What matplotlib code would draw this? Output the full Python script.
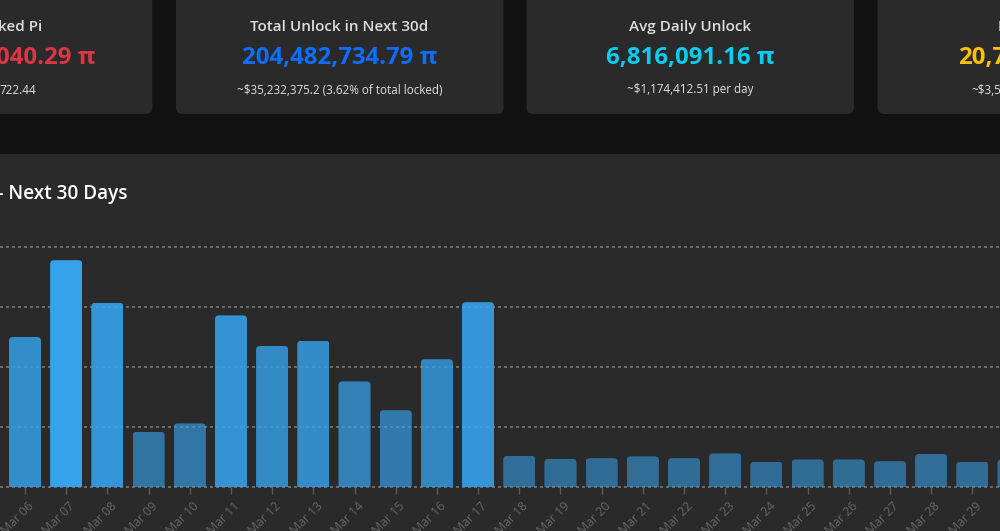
import matplotlib
matplotlib.use("Agg")
import matplotlib.pyplot as plt
from matplotlib.patches import FancyBboxPatch, Rectangle
from matplotlib.transforms import IdentityTransform, ScaledTranslation

W, H = 1000, 531
BG = "#121212"
CARD = "#2a2a2a"
FONT = "Open Sans"
plt.rcParams["font.family"] = [FONT, "Noto Sans", "DejaVu Sans"]

# ---- data ----
dates = ["Mar 06", "Mar 07", "Mar 08", "Mar 09", "Mar 10", "Mar 11", "Mar 12", "Mar 13", "Mar 14",
         "Mar 15", "Mar 16", "Mar 17", "Mar 18", "Mar 19", "Mar 20", "Mar 21", "Mar 22", "Mar 23",
         "Mar 24", "Mar 25", "Mar 26", "Mar 27", "Mar 28", "Mar 29", "Mar 30"]
unlock_m = [12.5, 18.9, 15.35, 4.6, 5.3, 14.3, 11.75, 12.2, 8.8,
            6.4, 10.65, 15.4, 2.6, 2.35, 2.4, 2.55, 2.4, 2.8,
            2.1, 2.3, 2.3, 2.15, 2.75, 2.1, 2.3]
grid_vals = [0, 5, 10, 15, 20]
card_titles = ["ked Pi", "Total Unlock in Next 30d", "Avg Daily Unlock", "P"]
card_values = ["040.29 π", "204,482,734.79 π", "6,816,091.16 π", "20,7"]
card_subs = ["722.44", "~$35,232,375.2 (3.62% of total locked)", "~$1,174,412.51 per day", "~$3,5"]
card_colors = ["#dc3545", "#0d6efd", "#0dcaf0", "#ffc107"]

fig = plt.figure(figsize=(W / 100, H / 100), dpi=100, facecolor=BG)
bgax = fig.add_axes([0, 0, 1, 1])
bgax.set_xlim(0, W); bgax.set_ylim(H, 0); bgax.axis("off")

# chart panel
bgax.add_patch(Rectangle((-20, 154), W + 40, H, fc=CARD, ec="none"))
bgax.text(-5.5, 193.5, "– Next 30 Days", color="white", fontsize=13.7, fontweight="semibold",
          va="center", ha="left")

# cards
for x0, x1 in [(-175, 152), (176.5, 503), (527, 853.5), (878, 1204)]:
    bgax.add_patch(FancyBboxPatch((x0 + 6, -30), x1 - x0 - 12, 137.5,
                                  boxstyle="round,pad=6,rounding_size=6", fc=CARD, ec="#2f2f2f", lw=0.5))

anchors = [(42, "right"), (339.5, "center"), (690, "center"), (998, "left")]
val_anchors = [(95.5, "right"), (339.5, "center"), (690, "center"), (958, "left")]
sub_anchors = [(36, "right"), (339.5, "center"), (690, "center"), (971, "left")]
for i in range(4):
    bgax.text(anchors[i][0], 27, card_titles[i], color="#dddddd", fontsize=11.0,
              fontweight="semibold", ha=anchors[i][1], va="center")
    bgax.text(val_anchors[i][0], 58, card_values[i], color=card_colors[i], fontsize=17.3,
              fontweight="bold", ha=val_anchors[i][1], va="center")
    bgax.text(sub_anchors[i][0], 90, card_subs[i], color="#e0e0e0", fontsize=8.4,
              ha=sub_anchors[i][1], va="center")

# chart axes: spans the full canvas width
base_px, top_px = 487, 247
ax = fig.add_axes([0, (H - base_px) / H, 1, (base_px - 175) / H])
ax.patch.set_alpha(0)
step = 41.19
x_first = 25.0
for s in ax.spines.values():
    s.set_visible(False)
ax.set_yticks(grid_vals)
ax.set_yticklabels([])
ax.tick_params(axis="y", length=0)
ax.grid(axis="y", color="#808080", linestyle=(0, (2.0, 2.0)), linewidth=1.08, zorder=1)
for gl in ax.get_ygridlines():
    gl.set_clip_on(False)
ax.set_axisbelow(True)

xs = list(range(len(dates)))
ax.set_xticks(xs)
ax.set_xticklabels(dates, rotation=45, ha="right", rotation_mode="anchor",
                   color="#666666", fontsize=8.8)
ax.tick_params(axis="x", length=5, width=1, color="#5a5a5a", pad=4)
shift = ScaledTranslation(2.5 / 100, 0, fig.dpi_scale_trans)
for lab in ax.get_xticklabels():
    lab.set_transform(lab.get_transform() + shift)

peak = max(unlock_m)
bars = ax.bar(xs, unlock_m, width=0.78, color="#36a2eb", zorder=2, linewidth=0)
ax.set_xlim(-x_first / step, (W - x_first) / step)
ax.set_ylim(0, 20 * (base_px - 175) / (base_px - top_px))
fig.canvas.draw()
for b, v in zip(bars, unlock_m):
    b.set_alpha(0.5 + 0.5 * v / peak)
    (x0, y0), (x1, y1) = ax.transData.transform([(b.get_x(), 0), (b.get_x() + b.get_width(), v)])
    r = 4
    clip = FancyBboxPatch((x0 + r, y0 - 20), x1 - x0 - 2 * r, y1 - y0 + 20 - r,
                          boxstyle=f"round,pad={r},rounding_size={r}", transform=IdentityTransform())
    b.set_clip_path(clip)

fig.savefig("out.png", dpi=100, facecolor=BG)
